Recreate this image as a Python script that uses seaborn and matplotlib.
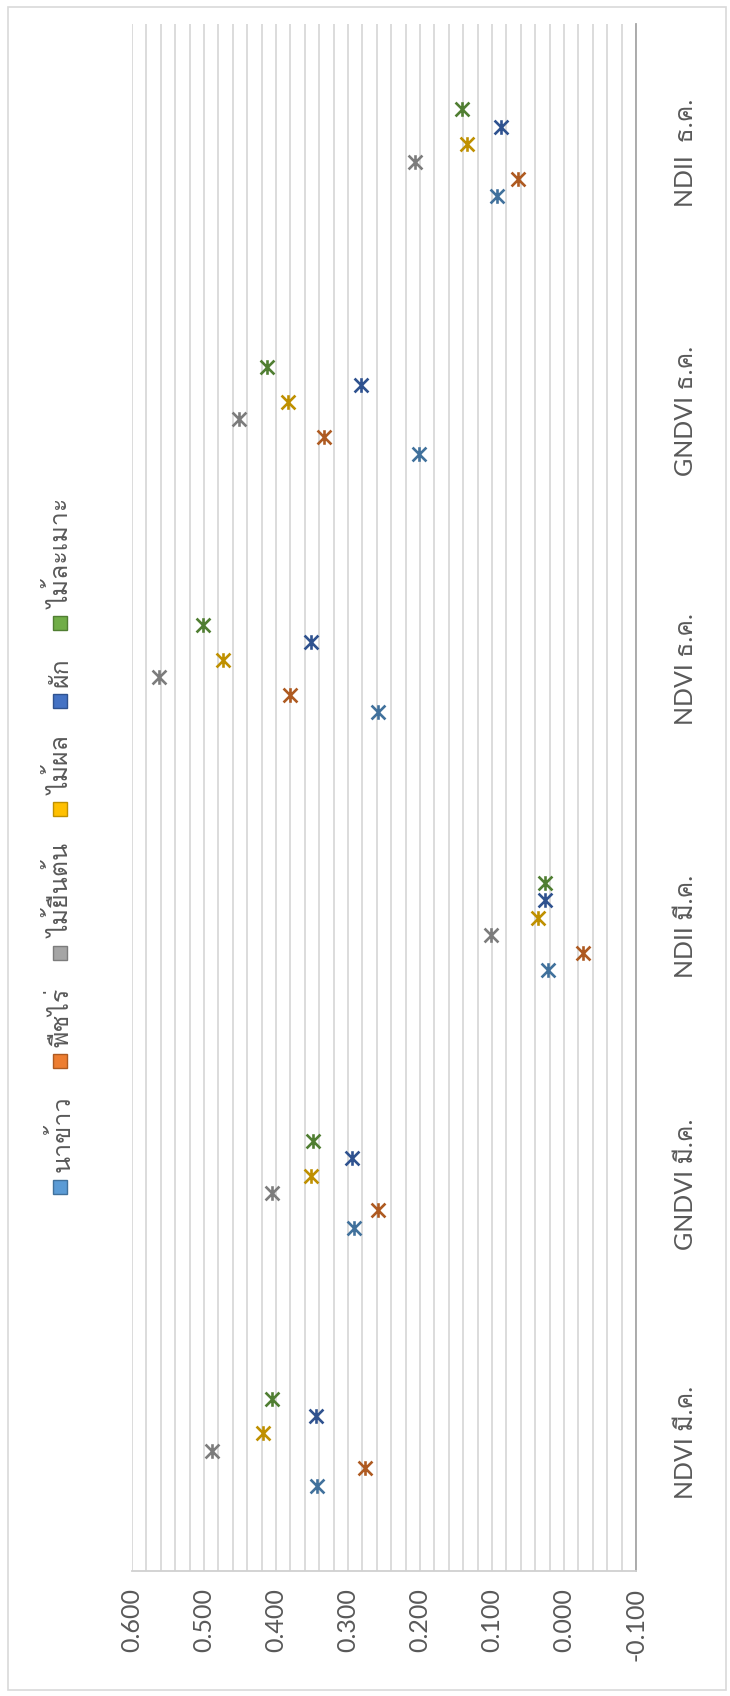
import numpy as np
import pandas as pd
import matplotlib
matplotlib.use("Agg")
import matplotlib.pyplot as plt
from matplotlib import font_manager
from matplotlib.path import Path
from matplotlib.patches import Rectangle
import seaborn as sns

# ---------------- data ----------------
categories = ["NDVI มี.ค.", "GNDVI มี.ค.", "NDII มี.ค.", "NDVI ธ.ค.", "GNDVI ธ.ค.", "NDII  ธ.ค."]
series = ["นาข้าว", "พืชไร่", "ไม้ยืนต้น", "ไม้ผล", "ผัก", "ไม้ละเมาะ"]
v_rice = [0.343, 0.291, 0.022, 0.259, 0.202, 0.093]
v_field = [0.277, 0.258, -0.026, 0.380, 0.333, 0.064]
v_perennial = [0.489, 0.405, 0.102, 0.562, 0.451, 0.207]
v_fruit = [0.418, 0.352, 0.036, 0.474, 0.384, 0.135]
v_veg = [0.345, 0.294, 0.026, 0.352, 0.282, 0.088]
v_shrub = [0.405, 0.348, 0.027, 0.501, 0.412, 0.141]
values = [v_rice, v_field, v_perennial, v_fruit, v_veg, v_shrub]
value_ticks = [0.6, 0.5, 0.4, 0.3, 0.2, 0.1, 0.0, -0.1]
tick_labels = ["0.600", "0.500", "0.400", "0.300", "0.200", "0.100", "0.000", "-0.100"]

fill_colors = ["#5B9BD5", "#ED7D31", "#A5A5A5", "#FFC000", "#4472C4", "#70AD47"]
mark_colors = ["#41719C", "#AE5A21", "#7C7C7C", "#BF9000", "#2F528F", "#507E32"]

# ---------------- fonts ----------------
thai_font = None
try:
    from fontTools.ttLib import TTFont
    for f in font_manager.fontManager.ttflist:
        try:
            tt = TTFont(f.fname, fontNumber=0, lazy=True)
            cmap = tt.getBestCmap()
            if cmap and 0x0E21 in cmap and 0x0E49 in cmap and 0x0E04 in cmap:
                thai_font = f.name
                break
        except Exception:
            pass
except Exception:
    pass

sns.set_theme(style="white")
fams = ["Lato"]
if thai_font:
    fams.append(thai_font)
fams.append("DejaVu Sans")
plt.rcParams["font.family"] = fams
txt_color = "#595959"
fs = 18

# ---------------- figure ----------------
W, H = 730, 1696
fig = plt.figure(figsize=(W / 100, H / 100), dpi=100)
fig.patch.set_facecolor("white")

def fx(px):
    return px / W

def fy(py):
    return 1 - py / H

# chart border
fig.add_artist(Rectangle((fx(8), fy(1690)), (726 - 8) / W, (1690 - 7) / H,
                         transform=fig.transFigure, fill=False, ec="#d9d9d9", lw=1.2))

left, right, top, bottom = 132, 636, 24, 1571
ax = fig.add_axes([fx(left), fy(bottom), (right - left) / W, (bottom - top) / H])
ax.set_facecolor("white")

# long format table
rows = []
n = len(series)
for si, (s, vals) in enumerate(zip(series, values)):
    for ci, v in enumerate(vals):
        rows.append({"series": s, "cat": ci, "value": v,
                     "pos": ci + 1 + (si - (n - 1) / 2) * 0.0675})
df = pd.DataFrame(rows)

star = Path([(-1, -1), (1, 1), (-1, 1), (1, -1), (0, -1.05), (0, 1.05)],
            [Path.MOVETO, Path.LINETO, Path.MOVETO, Path.LINETO, Path.MOVETO, Path.LINETO])

for si, s in enumerate(series):
    sub = df[df["series"] == s]
    sns.scatterplot(data=sub, x="value", y="pos", ax=ax, marker=star, s=110,
                    color=mark_colors[si], edgecolor=mark_colors[si], linewidth=1.9,
                    legend=False, zorder=3)

ax.set_xlim(0.6, -0.1)
ax.set_ylim(0.5, len(categories) + 0.5)
ax.set_xticks(np.round(np.arange(-0.1, 0.6001, 0.02), 3), minor=True)
ax.set_xticks(value_ticks)
ax.set_xticklabels(tick_labels, rotation=90, color=txt_color, fontsize=fs)
ax.grid(False)
ax.grid(True, axis="x", which="both", color="#d9d9d9", lw=1.3)
ax.set_axisbelow(True)
ax.set_yticks(range(1, len(categories) + 1))
ax.set_yticklabels(categories, rotation=90, color=txt_color, fontsize=fs, va="center")
ax.yaxis.tick_right()
ax.tick_params(axis="y", length=0, pad=27)
ax.tick_params(axis="x", which="both", length=0, pad=12)
ax.set_xlabel("")
ax.set_ylabel("")
for sp in ["top", "left"]:
    ax.spines[sp].set_visible(False)
ax.spines["right"].set_color("#a6a6a6")
ax.spines["right"].set_linewidth(1.3)
ax.spines["bottom"].set_color("#d0d0d0")
ax.spines["bottom"].set_linewidth(1.3)

# ---------------- legend (rotated, manual flow) ----------------
fig.canvas.draw()
renderer = fig.canvas.get_renderer()
cx = 60
sq = 14
gap = 7
spacing = 28
lengths = []
for s in series:
    t = fig.text(0, 0, s, rotation=90, fontsize=fs)
    lengths.append(t.get_window_extent(renderer).height)
    t.remove()
total = sum(sq + gap + L for L in lengths) + spacing * (n - 1)
cur = 846 + total / 2
for si, s in enumerate(series):
    fig.add_artist(Rectangle((fx(cx - sq / 2), fy(cur)), sq / W, sq / H,
                             transform=fig.transFigure, fc=fill_colors[si],
                             ec=mark_colors[si], lw=1.0))
    fig.text(fx(cx), fy(cur - sq - gap), s, rotation=90, ha="center", va="bottom",
             fontsize=fs, color=txt_color)
    cur -= sq + gap + lengths[si] + spacing

fig.savefig("out.png", dpi=100, facecolor="white")
